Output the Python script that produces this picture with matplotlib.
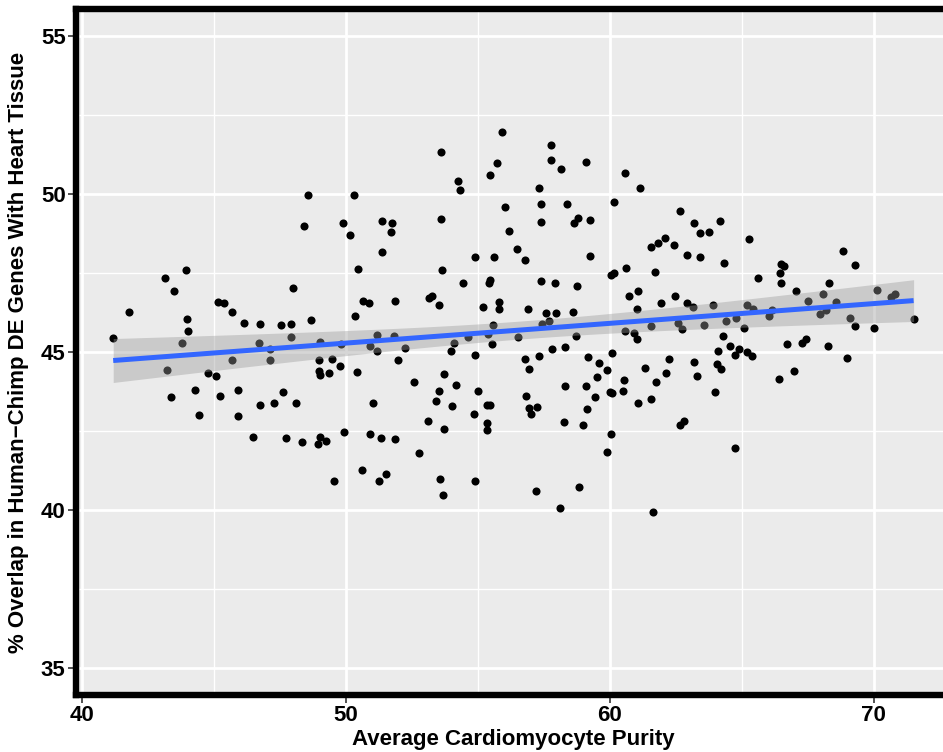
import matplotlib
matplotlib.use("Agg")
import matplotlib.pyplot as plt
from matplotlib.ticker import MultipleLocator
import numpy as np

plt.rcParams['font.family'] = ['Liberation Sans', 'DejaVu Sans']

# purity (x) / overlap (y) in four vertical strips
purity_left = [43.93, 43.13, 43.46, 41.76, 45.15, 45.38, 45.67, 43.95, 43.99, 46.14,
               46.74, 47.53, 47.92, 48.00, 41.17, 43.79, 46.71, 47.91, 47.11, 45.68,
               47.11, 43.21, 44.77, 45.08, 44.28, 45.91, 43.35, 45.22, 47.60, 46.74,
               47.25, 48.10, 44.42, 45.91, 46.46, 47.73]
overlap_left = [47.59, 47.34, 46.93, 46.26, 46.57, 46.54, 46.26, 46.04, 45.66, 45.91,
                45.90, 45.84, 45.88, 47.02, 45.43, 45.28, 45.28, 45.48, 45.09, 44.75,
                44.75, 44.44, 44.34, 44.23, 43.80, 43.80, 43.57, 43.62, 43.73, 43.31,
                43.40, 43.38, 43.02, 42.98, 42.31, 42.27]

purity_midleft = [53.59, 55.73, 55.44, 54.24, 54.33, 48.54, 50.30, 56.02, 48.40, 49.87,
                  50.13, 51.37, 51.75, 51.70, 53.59, 56.17, 56.46, 51.37, 54.88, 55.61,
                  50.46, 53.64, 54.43, 55.45, 55.40, 53.15, 53.25, 53.53, 50.64, 50.86,
                  51.84, 48.67, 50.33, 55.17, 55.79, 55.80, 55.58, 55.36, 54.61, 54.08,
                  53.98, 54.89, 55.53, 56.51, 49.00, 49.79, 51.16, 51.82, 50.91, 51.18,
                  52.24, 48.97, 49.46, 49.75, 48.98, 49.00, 49.36, 50.41, 51.96, 52.56,
                  53.71, 54.16, 53.51, 53.40, 54.99, 54.01, 54.83, 55.35, 55.45, 55.33,
                  55.34, 53.10, 53.72, 51.02, 49.91, 50.90, 51.31, 51.85, 49.01, 48.94,
                  49.23, 48.34, 52.76, 50.60, 51.51, 51.24, 49.53, 53.54, 54.89, 53.68,
                  55.91]
overlap_midleft = [51.32, 50.97, 50.61, 50.42, 50.13, 49.97, 49.98, 49.59, 48.98, 49.07,
                   48.69, 49.15, 49.09, 48.81, 49.21, 48.82, 48.27, 48.16, 48.01, 48.00,
                   47.62, 47.59, 47.19, 47.28, 47.17, 46.71, 46.77, 46.48, 46.61, 46.56,
                   46.60, 46.00, 46.13, 46.43, 46.59, 46.37, 45.86, 45.58, 45.48, 45.28,
                   45.04, 44.91, 45.25, 45.47, 45.31, 45.25, 45.53, 45.52, 45.19, 45.04,
                   45.13, 44.75, 44.77, 44.57, 44.39, 44.26, 44.34, 44.36, 44.76, 44.04,
                   44.31, 43.97, 43.78, 43.46, 43.76, 43.30, 43.03, 43.31, 43.31, 42.76,
                   42.53, 42.81, 42.55, 43.39, 42.47, 42.41, 42.28, 42.25, 42.30, 42.09,
                   42.19, 42.14, 41.81, 41.28, 41.13, 40.93, 40.91, 40.99, 40.92, 40.47,
                   51.97]

purity_midright = [57.78, 58.14, 59.10, 60.57, 61.13, 57.31, 57.38, 58.36, 60.16, 62.65,
                   57.38, 58.65, 58.80, 59.25, 64.17, 63.20, 63.41, 63.75, 62.07, 61.83,
                   61.54, 62.44, 59.23, 62.92, 63.41, 56.77, 64.32, 60.61, 60.03, 60.16,
                   61.71, 57.40, 57.90, 58.75, 60.73, 61.07, 62.48, 61.92, 62.92, 63.16,
                   63.89, 61.01, 56.88, 57.56, 57.95, 58.60, 57.42, 57.70, 58.71, 61.57,
                   60.56, 60.90, 61.04, 62.58, 62.73, 63.56, 64.40, 64.79, 64.27, 64.55,
                   64.88, 64.75, 64.11, 64.05, 64.21, 57.81, 58.28, 57.32, 56.77, 56.93,
                   59.18, 59.58, 60.08, 59.89, 59.52, 61.32, 62.23, 62.13, 61.73, 63.17,
                   63.30, 63.98, 60.54, 60.50, 59.99, 60.09, 59.43, 59.09, 58.28, 56.80,
                   56.94, 57.00, 57.24, 61.05, 61.55, 59.13, 58.26, 58.98, 62.65, 62.81,
                   60.04, 59.90, 64.75, 57.18, 58.81, 58.09, 61.64, 57.76]
overlap_midright = [51.08, 50.78, 51.01, 50.66, 50.18, 50.20, 49.67, 49.69, 49.75, 49.46,
                    49.10, 49.09, 49.24, 49.18, 49.14, 49.07, 48.76, 48.80, 48.61, 48.45,
                    48.32, 48.38, 48.05, 48.08, 48.02, 47.92, 47.83, 47.67, 47.45, 47.51,
                    47.53, 47.26, 47.18, 47.09, 46.78, 46.92, 46.78, 46.56, 46.56, 46.43,
                    46.49, 46.36, 46.36, 46.23, 46.22, 46.28, 45.90, 45.99, 45.51, 45.81,
                    45.67, 45.59, 45.42, 45.91, 45.74, 45.85, 45.98, 46.09, 45.52, 45.20,
                    45.09, 44.91, 45.03, 44.61, 44.46, 45.09, 45.17, 44.87, 44.77, 44.47,
                    44.83, 44.66, 44.96, 44.42, 44.21, 44.48, 44.79, 44.34, 44.04, 44.69,
                    44.23, 43.74, 44.10, 43.76, 43.72, 43.71, 43.57, 43.91, 43.93, 43.61,
                    43.24, 43.03, 43.26, 43.39, 43.52, 43.20, 42.78, 42.70, 42.68, 42.83,
                    42.40, 41.84, 41.97, 40.60, 40.72, 40.05, 39.93, 51.54]

purity_right = [65.28, 68.83, 69.28, 66.49, 66.59, 66.46, 65.61, 66.48, 68.30, 67.06,
                70.12, 70.65, 70.80, 65.19, 65.41, 66.13, 66.04, 67.52, 68.09, 68.58,
                67.96, 68.19, 69.10, 65.08, 69.30, 70.00, 71.51, 66.70, 67.27, 67.43,
                68.28, 65.18, 65.39, 68.98, 66.99, 66.40]
overlap_right = [48.59, 48.20, 47.74, 47.78, 47.71, 47.49, 47.34, 47.18, 47.17, 46.93,
                 46.96, 46.75, 46.84, 46.48, 46.35, 46.33, 46.15, 46.61, 46.83, 46.57,
                 46.19, 46.34, 46.09, 45.75, 45.82, 45.75, 46.03, 45.25, 45.29, 45.40,
                 45.19, 45.01, 44.88, 44.81, 44.40, 44.16]

x = np.array(purity_left + purity_midleft + purity_midright + purity_right)
y = np.array(overlap_left + overlap_midleft + overlap_midright + overlap_right)

# linear fit with 95% confidence band (like geom_smooth(method = "lm"))
n = len(x)
slope, intercept = np.polyfit(x, y, 1)
resid = y - (slope * x + intercept)
sigma = np.sqrt(np.sum(resid ** 2) / (n - 2))
xs = np.linspace(x.min(), x.max(), 80)
ys = slope * xs + intercept
se = sigma * np.sqrt(1.0 / n + (xs - x.mean()) ** 2 / np.sum((x - x.mean()) ** 2))
t_crit = 1.969
lo, hi = ys - t_crit * se, ys + t_crit * se

W, H = 943, 752
fig = plt.figure(figsize=(W / 100, H / 100), dpi=100)
left_px, right_px, top_px, bot_px = 76, 950, 9, 695
ax = fig.add_axes([left_px / W, 1 - bot_px / H, (right_px - left_px) / W, (bot_px - top_px) / H])
ax.set_facecolor('#EBEBEB')

ax.scatter(x, y, s=34, color='black', linewidths=0, zorder=2)
ax.fill_between(xs, lo, hi, color='#999999', alpha=0.4, linewidth=0, zorder=3)
ax.plot(xs, ys, color='#3366FF', lw=3.6, zorder=4, solid_capstyle='butt')

ax.set_xlim(39.76, 72.89)
ax.set_ylim(34.15, 55.85)
ax.xaxis.set_major_locator(MultipleLocator(10))
ax.xaxis.set_minor_locator(MultipleLocator(5))
ax.yaxis.set_major_locator(MultipleLocator(5))
ax.yaxis.set_minor_locator(MultipleLocator(2.5))
ax.grid(which='major', color='white', lw=2.0, zorder=0)
ax.grid(which='minor', color='white', lw=1.0, zorder=0)
ax.set_axisbelow(True)

for side in ['left', 'bottom', 'top']:
    ax.spines[side].set_color('black')
    ax.spines[side].set_linewidth(4.6)
ax.spines['right'].set_visible(False)

ax.tick_params(which='major', length=5.5, width=1.2, color='#333333', pad=2,
               labelsize=16, labelcolor='black')
ax.tick_params(which='minor', length=0)
for lab in ax.get_xticklabels() + ax.get_yticklabels():
    lab.set_fontweight('bold')

ax.set_xlabel('Average Cardiomyocyte Purity', fontsize=16, fontweight='bold')
ax.xaxis.set_label_coords(0.5, (bot_px - 729) / (bot_px - top_px))
ax.set_ylabel('% Overlap in Human\u2212Chimp DE Genes With Heart Tissue', fontsize=16, fontweight='bold')
ax.yaxis.set_label_coords((29 - left_px) / (right_px - left_px), 0.5)

fig.savefig('out.png', dpi=100)
